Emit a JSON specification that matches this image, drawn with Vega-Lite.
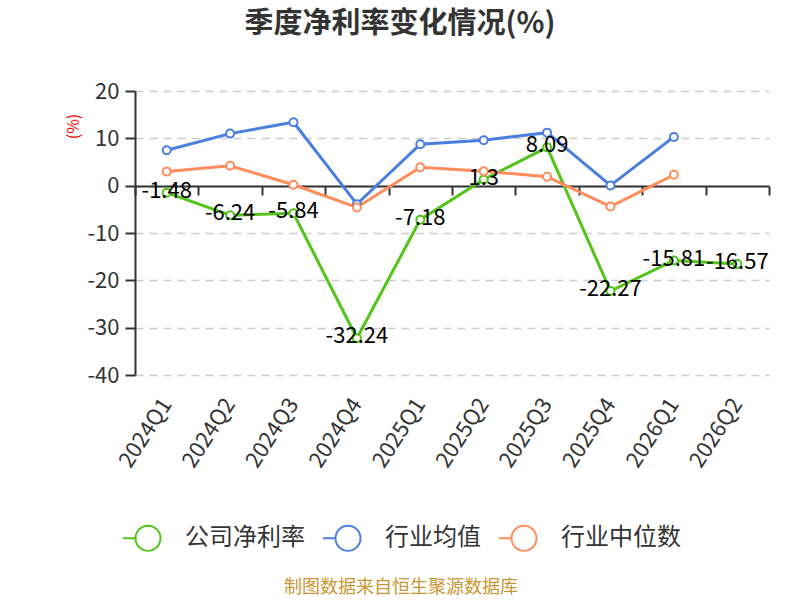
{
  "$schema": "https://vega.github.io/schema/vega-lite/v6.json",
  "width": 634,
  "height": 284,
  "autosize": "none",
  "padding": {"left": 135, "top": 91, "right": 31, "bottom": 225},
  "background": "white",
  "config": {"font": "Noto Sans CJK SC", "view": {"stroke": null}},
  "title": {"text": "季度净利率变化情况(%)", "fontSize": 29, "fontWeight": "bold", "color": "#333333", "anchor": "middle", "dx": -52, "offset": 41},
  "data": {"values": [
    {"quarter": "2024Q1", "series": "公司净利率", "value": -1.48},
    {"quarter": "2024Q2", "series": "公司净利率", "value": -6.24},
    {"quarter": "2024Q3", "series": "公司净利率", "value": -5.84},
    {"quarter": "2024Q4", "series": "公司净利率", "value": -32.24},
    {"quarter": "2025Q1", "series": "公司净利率", "value": -7.18},
    {"quarter": "2025Q2", "series": "公司净利率", "value": 1.3},
    {"quarter": "2025Q3", "series": "公司净利率", "value": 8.09},
    {"quarter": "2025Q4", "series": "公司净利率", "value": -22.27},
    {"quarter": "2026Q1", "series": "公司净利率", "value": -15.81},
    {"quarter": "2026Q2", "series": "公司净利率", "value": -16.57},
    {"quarter": "2024Q1", "series": "行业均值", "value": 7.48},
    {"quarter": "2024Q2", "series": "行业均值", "value": 11.0},
    {"quarter": "2024Q3", "series": "行业均值", "value": 13.4},
    {"quarter": "2024Q4", "series": "行业均值", "value": -3.9},
    {"quarter": "2025Q1", "series": "行业均值", "value": 8.76},
    {"quarter": "2025Q2", "series": "行业均值", "value": 9.6},
    {"quarter": "2025Q3", "series": "行业均值", "value": 11.2},
    {"quarter": "2025Q4", "series": "行业均值", "value": 0.05},
    {"quarter": "2026Q1", "series": "行业均值", "value": 10.3},
    {"quarter": "2024Q1", "series": "行业中位数", "value": 3.0},
    {"quarter": "2024Q2", "series": "行业中位数", "value": 4.2},
    {"quarter": "2024Q3", "series": "行业中位数", "value": 0.2},
    {"quarter": "2024Q4", "series": "行业中位数", "value": -4.6},
    {"quarter": "2025Q1", "series": "行业中位数", "value": 3.9},
    {"quarter": "2025Q2", "series": "行业中位数", "value": 3.05},
    {"quarter": "2025Q3", "series": "行业中位数", "value": 1.9},
    {"quarter": "2025Q4", "series": "行业中位数", "value": -4.4},
    {"quarter": "2026Q1", "series": "行业中位数", "value": 2.3}
  ]},
  "layer": [
    {
      "mark": {"type": "line", "strokeWidth": 3, "point": {"filled": false, "fill": "white", "size": 64, "strokeWidth": 2}},
      "encoding": {
        "x": {
          "field": "quarter", "type": "nominal",
          "sort": ["2024Q1","2024Q2","2024Q3","2024Q4","2025Q1","2025Q2","2025Q3","2025Q4","2026Q1","2026Q2"],
          "scale": {"type": "band", "paddingInner": 0, "paddingOuter": 0},
          "axis": {"title": null, "domain": false, "ticks": false, "grid": false, "labelAngle": -57, "labelFontSize": 22, "labelColor": "#333333", "labelPadding": 25}
        },
        "y": {
          "field": "value", "type": "quantitative",
          "scale": {"domain": [-40, 20], "nice": false, "zero": false},
          "axis": {
            "title": "(%)", "titleColor": "#ff0000", "titleFontSize": 16, "titleFontWeight": "normal",
            "titleAngle": -90, "titleX": -62, "titleY": 35, "titleAlign": "center", "titleBaseline": "middle",
            "values": [-40, -30, -20, -10, 0, 10, 20],
            "labelExpr": "'' + datum.value",
            "labelFontSize": 22, "labelColor": "#333333", "labelPadding": 6,
            "domainColor": "#333333", "domainWidth": 2,
            "tickColor": "#333333", "tickWidth": 2, "tickSize": 10,
            "grid": true, "gridColor": "#cccccc", "gridDash": [8, 6], "gridWidth": 1.5
          }
        },
        "color": {
          "field": "series", "type": "nominal",
          "scale": {"domain": ["公司净利率", "行业均值", "行业中位数"], "range": ["#52c41a", "#4a7fe0", "#ff8c5a"]},
          "legend": {
            "orient": "none", "legendX": -13, "legendY": 421, "direction": "horizontal",
            "title": "制图数据来自恒生聚源数据库", "titleOrient": "bottom", "titleAnchor": "middle", "titleLimit": 600,
            "titleFontSize": 18, "titleFontWeight": "normal", "titleColor": "#c89632", "titlePadding": 24,
            "labelFontSize": 24, "labelColor": "#333333", "labelLimit": 300,
            "symbolType": "M-1,0L-0.5,0M0.5,0A0.5,0.5,0,1,1,-0.5,0A0.5,0.5,0,1,1,0.5,0",
            "symbolSize": 2500, "symbolStrokeWidth": 2, "symbolFillColor": "white",
            "labelOffset": 11, "columnPadding": 14
          }
        }
      }
    },
    {
      "transform": [{"filter": "datum.series === '公司净利率'"}],
      "mark": {"type": "text", "fontSize": 22, "color": "#000000", "baseline": "middle", "dy": -2},
      "encoding": {
        "x": {
          "field": "quarter", "type": "nominal",
          "sort": ["2024Q1","2024Q2","2024Q3","2024Q4","2025Q1","2025Q2","2025Q3","2025Q4","2026Q1","2026Q2"],
          "axis": {"title": null, "orient": "bottom", "offset": -189, "labels": false, "grid": false,
                   "domain": true, "domainColor": "#333333", "domainWidth": 2,
                   "ticks": true, "tickBand": "extent", "tickSize": 9, "tickColor": "#333333", "tickWidth": 2}
        },
        "y": {"field": "value", "type": "quantitative"},
        "text": {"field": "value", "type": "nominal"}
      }
    }
  ],
  "resolve": {"axis": {"x": "independent"}}
}
